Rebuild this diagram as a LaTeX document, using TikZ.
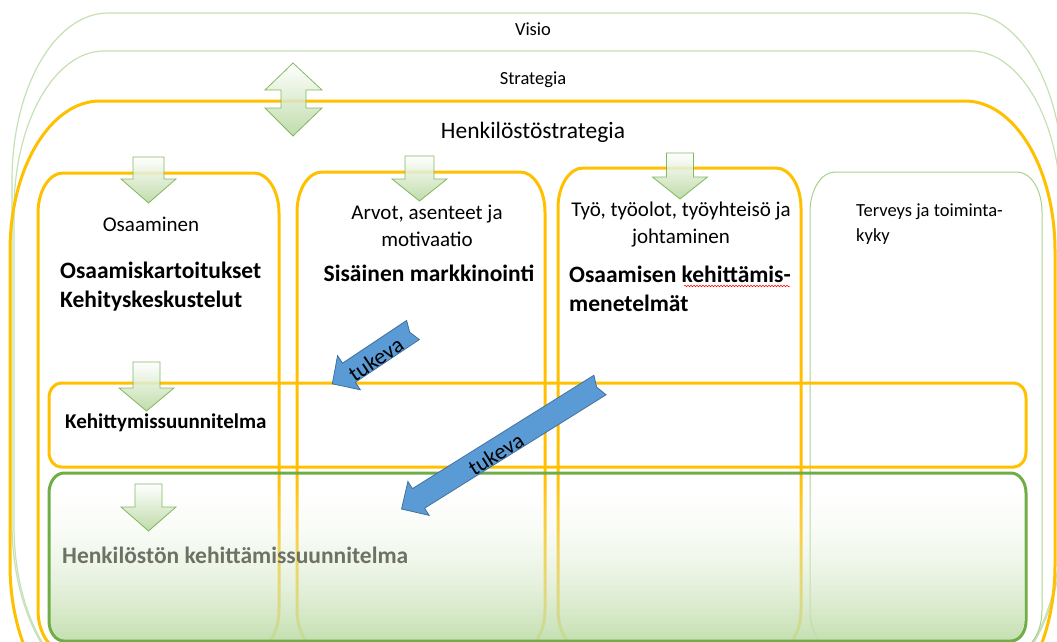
\documentclass[tikz,border=0pt]{standalone}
\usepackage{fontspec}
\setmainfont{Carlito}
\usetikzlibrary{fadings,decorations.pathmorphing}
\definecolor{orng}{HTML}{FFC000}
\definecolor{lgreen}{HTML}{C5E0B4}
\definecolor{cgreen}{HTML}{A9D18E}
\definecolor{dgreen}{HTML}{70AD47}
\definecolor{fgreen}{HTML}{BFDCA9}
\definecolor{agreen}{HTML}{B5D69C}
\definecolor{bblue}{HTML}{5B9BD5}
\definecolor{bline}{HTML}{41719C}
\definecolor{gtext}{HTML}{6E7265}
\tikzfading[name=fadeup, top color=transparent!100, bottom color=transparent!8]
% elliptical rounded rectangle: x1 y1 x2 y2 rx ry
\newcommand\eroundbox[6]{(#1+#5,#2) -- (#3-#5,#2) .. controls (#3-0.448*#5,#2) and (#3,#2+0.448*#6) .. (#3,#2+#6) -- (#3,#4-#6) .. controls (#3,#4-0.448*#6) and (#3-0.448*#5,#4) .. (#3-#5,#4) -- (#1+#5,#4) .. controls (#1+0.448*#5,#4) and (#1,#4-0.448*#6) .. (#1,#4-#6) -- (#1,#2+#6) .. controls (#1,#2+0.448*#6) and (#1+0.448*#5,#2) .. cycle}
% down block arrow: cx top headstart tip shafthalf headhalf
\newcommand\downarr[6]{(#1-#5,#2) -- (#1+#5,#2) -- (#1+#5,#3) -- (#1+#6,#3) -- (#1,#4) -- (#1-#6,#3) -- (#1-#5,#3) -- cycle}
\begin{document}
\begin{tikzpicture}[x=1pt,y=-1pt,
  obox/.style={draw=orng,line width=3pt},
  gbox/.style={draw=lgreen,line width=1.2pt},
  darr/.style={top color=white,bottom color=agreen,draw=dgreen,line width=0.8pt,opacity=0.85},
  barr/.style={fill=bblue,draw=bline,line width=0.8pt},
  lbl/.style={inner sep=0pt,text=black},
  fsmall/.style={font=\fontsize{18.5}{25}\selectfont},
  fnorm/.style={font=\fontsize{21}{27}\selectfont},
  fbold/.style={font=\fontsize{23.5}{29}\selectfont\bfseries},
  ftuk/.style={font=\fontsize{22.5}{24}\selectfont}]
\useasboundingbox (0,0) rectangle (1057,642);
\begin{scope}
\clip (0,0) rectangle (1057,642);
% outer frames
\path[gbox] \eroundbox{12}{13}{1063}{690}{96}{167};
\path[gbox] \eroundbox{14}{51}{1061}{686}{90}{160};
\path[obox] \eroundbox{10}{101}{1055}{715}{90}{150};
% columns
\path[obox] \eroundbox{38}{173}{279}{650}{25}{40};
\path[obox] \eroundbox{297}{172}{545}{650}{25}{40};
\path[obox] \eroundbox{558}{168}{801}{650}{25}{40};
\path[draw=cgreen,line width=1pt] \eroundbox{810}{172}{1042}{650}{25}{40};
% Kehittymissuunnitelma band
\path[obox] \eroundbox{49}{383}{1026}{467}{12}{15};
% Henkiloston kehittamissuunnitelma band
\path[top color=white,bottom color=fgreen,path fading=fadeup] \eroundbox{49}{473}{1026}{641}{15}{20};
\path[draw=dgreen,line width=3pt] \eroundbox{49}{473}{1026}{641}{15}{20};
% green block arrows
\path[darr] (293,63) -- (322,90) -- (306,90) -- (306,108) -- (322,108) -- (293,136) -- (265,108) -- (281,108) -- (281,90) -- (265,90) -- cycle;
\path[darr] \downarr{148.5}{157}{179}{203}{15.5}{27.5};
\path[darr] \downarr{419.5}{156}{179}{201}{14.5}{27.5};
\path[darr] \downarr{680}{153}{177}{199}{13.5}{27.5};
\path[darr] \downarr{146.5}{362}{388}{411}{13.5}{27.5};
\path[darr] \downarr{148.5}{484}{507}{531}{13.5}{27.5};
% blue arrows
\begin{scope}[shift={(413,330)},rotate=213.7]
  \path[barr] (0,11.5) -- (77,11.5) -- (77,20.5) -- (97,0) -- (77,-20.5) -- (77,-11.5) -- (0,-11.5) -- (4,0) -- cycle;
  \node[lbl,ftuk,rotate=33.7] (tuk1) at (47,-3.5) {tukeva};
\end{scope}
\begin{scope}[shift={(600,385)},rotate=212]
  \path[barr] (0,11.5) -- (214,11.5) -- (214,20) -- (234,0) -- (214,-20) -- (214,-11.5) -- (0,-11.5) -- (4,0) -- cycle;
  \node[lbl,ftuk,rotate=32] (tuk2) at (125,-3.5) {tukeva};
\end{scope}
% texts
\node[lbl,fsmall] (visio) at (533,29) {Visio};
\node[lbl,fsmall] (strat) at (533,80) {Strategia};
\node[lbl,font=\fontsize{23.5}{28}\selectfont] (hstrat) at (533,132) {Henkilöstöstrategia};
\node[lbl,fnorm] (osa) at (151,224) {Osaaminen};
\node[lbl,fbold,anchor=west,align=left] (osak) at (60,287) {Osaamiskartoitukset\\Kehityskeskustelut};
\node[lbl,fnorm,align=center] (arvot) at (427,226) {Arvot, asenteet ja\\motivaatio};
\node[lbl,fbold] (sis) at (429,273) {Sisäinen markkinointi};
\node[lbl,fnorm,align=center] (tyo) at (681,225) {Työ, työolot, työyhteisö ja\\johtaminen};
\node[lbl,fbold,anchor=west,align=left] (okm) at (569,289) {Osaamisen kehittämis-\\menetelmät};
\draw[red,line width=0.5pt,decorate,decoration={snake,amplitude=0.8pt,segment length=3pt}] (684,286) -- (790,286);
\node[lbl,fsmall,anchor=west,align=left] (terv) at (856,224) {Terveys ja toiminta-\\kyky};
\node[lbl,font=\fontsize{21}{25}\selectfont\bfseries,anchor=west] (kehs) at (65,423) {Kehittymissuunnitelma};
\node[lbl,fbold,text=gtext,anchor=west] (hks) at (62,555) {Henkilöstön kehittämissuunnitelma};
\end{scope}
\end{tikzpicture}
\end{document}
